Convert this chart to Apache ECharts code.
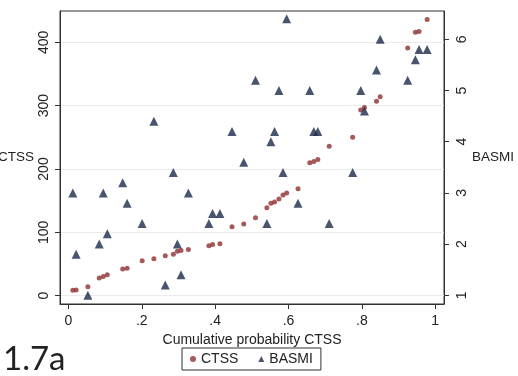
<!DOCTYPE html>
<html>
<head>
<meta charset="utf-8">
<script src="https://cdn.jsdelivr.net/npm/echarts@6/dist/echarts.min.js"></script>
<style>
  html, body { margin: 0; padding: 0; background: #fff; }
  #chart { width: 518px; height: 376px; }
</style>
</head>
<body>
<div id="chart"></div>
<script>
// cumulative probability of CTSS (shared x for both series)
const cumProb = [
  0.012, 0.021, 0.053, 0.084, 0.095, 0.106, 0.148, 0.160, 0.201, 0.233,
  0.264, 0.286, 0.297, 0.307, 0.327, 0.383, 0.393, 0.413, 0.446, 0.478,
  0.510, 0.541, 0.552, 0.562, 0.574, 0.585, 0.595, 0.626, 0.658, 0.669,
  0.680, 0.711, 0.775, 0.797, 0.807, 0.840, 0.850, 0.925, 0.946, 0.956,
  0.978
];
const ctssValues = [
  8.5, 9, 14, 28, 30.5, 33, 42, 43.5, 55, 58.5,
  63, 65.5, 70, 71.5, 73, 79, 81, 82, 109, 113,
  123, 139, 146, 148, 152.5, 159, 162, 169, 210, 212,
  215, 236, 250, 293, 297, 307, 314, 391, 416, 417,
  436
];
const basmiValues = [
  3.0, 1.8, 1.0, 2.0, 3.0, 2.2, 3.2, 2.8, 2.4, 4.4,
  1.2, 3.4, 2.0, 1.4, 3.0, 2.4, 2.6, 2.6, 4.2, 3.6,
  5.2, 2.4, 4.0, 4.2, 5.0, 3.4, 6.4, 2.8, 5.0, 4.2,
  4.2, 2.4, 3.4, 5.0, 4.6, 5.4, 6.0, 5.2, 5.6, 5.8,
  5.8
];

const xTicks = [0, 0.2, 0.4, 0.6, 0.8, 1];
const xTickLabels = ['0', '.2', '.4', '.6', '.8', '1'];
const ctssTicks = [0, 100, 200, 300, 400];
const basmiTicks = [1, 2, 3, 4, 5, 6];

const font = 'Liberation Sans, Arial, sans-serif';
const ink = '#222';

const chart = echarts.init(document.getElementById('chart'));

const yAxisBase = {
  type: 'value',
  nameLocation: 'middle',
  nameRotate: 0,
  nameGap: 25,
  nameTextStyle: { fontFamily: font, fontSize: 13.5, color: ink },
  axisLine: { show: true, onZero: false, lineStyle: { color: '#333', width: 1 } },
  axisTick: { show: true, length: 5, lineStyle: { color: '#333' } },
  axisLabel: { rotate: 90, margin: 9, fontFamily: font, fontSize: 14, color: ink }
};

chart.setOption({
  animation: false,
  title: {
    text: '1.7a',
    left: 3,
    top: 343,
    padding: 0,
    textStyle: { fontFamily: 'Lato, sans-serif', fontSize: 33, fontWeight: 'normal', color: ink }
  },
  legend: {
    left: 182,
    top: 348,
    padding: [4, 8],
    itemGap: 20,
    itemWidth: 6,
    itemHeight: 6,
    borderColor: '#333',
    borderWidth: 1,
    textStyle: { fontFamily: font, fontSize: 14, color: ink },
    data: ['CTSS', 'BASMI']
  },
  grid: {
    left: 60,
    right: 74,
    top: 11,
    bottom: 72,
    outerBoundsMode: 'none',
    containLabel: false,
    show: true,
    borderColor: '#333',
    borderWidth: 1
  },
  xAxis: {
    type: 'value',
    min: -0.023,
    max: 1.024,
    name: 'Cumulative probability CTSS',
    nameLocation: 'middle',
    nameGap: 23,
    nameTextStyle: { fontFamily: font, fontSize: 14, color: ink },
    axisLine: { show: true, onZero: false, lineStyle: { color: '#333', width: 1 } },
    axisTick: { show: true, length: 5, customValues: xTicks, lineStyle: { color: '#333' } },
    axisLabel: {
      customValues: xTicks,
      margin: 10,
      fontFamily: font,
      fontSize: 14,
      color: ink,
      formatter: v => xTickLabels[xTicks.findIndex(t => Math.abs(t - v) < 1e-6)] ?? ''
    },
    splitLine: { show: false }
  },
  yAxis: [
    Object.assign({}, yAxisBase, {
      name: 'CTSS',
      position: 'left',
      min: -13.1,
      max: 449.4,
      axisTick: Object.assign({}, yAxisBase.axisTick, { customValues: ctssTicks }),
      axisLabel: Object.assign({}, yAxisBase.axisLabel, { customValues: ctssTicks }),
      splitLine: { show: true, lineStyle: { color: '#ebebeb', width: 1 } }
    }),
    Object.assign({}, yAxisBase, {
      name: 'BASMI',
      position: 'right',
      nameGap: 24,
      min: 0.83,
      max: 6.553,
      axisTick: Object.assign({}, yAxisBase.axisTick, { customValues: basmiTicks }),
      axisLabel: Object.assign({}, yAxisBase.axisLabel, { customValues: basmiTicks, margin: 11 }),
      splitLine: { show: false }
    })
  ],
  series: [
    {
      name: 'CTSS',
      type: 'scatter',
      yAxisIndex: 0,
      symbol: 'circle',
      symbolSize: 5,
      itemStyle: { color: '#8e2f2f' },
      data: cumProb.map((p, i) => [p, ctssValues[i]])
    },
    {
      name: 'BASMI',
      type: 'scatter',
      yAxisIndex: 1,
      symbol: 'triangle',
      symbolSize: 9,
      itemStyle: { color: '#1b2a4a' },
      data: cumProb.map((p, i) => [p, basmiValues[i]])
    }
  ]
});

window.addEventListener('resize', chart.resize);
</script>
</body>
</html>
